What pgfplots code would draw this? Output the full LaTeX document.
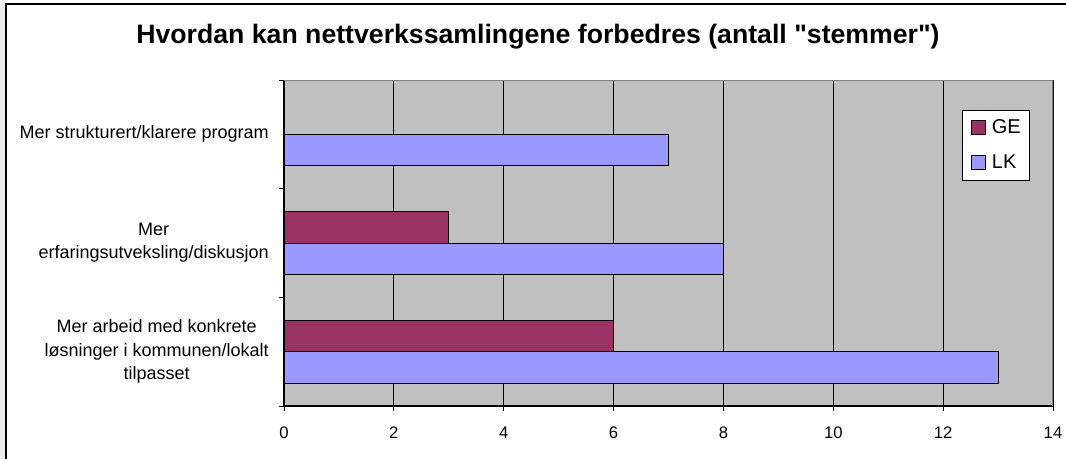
\documentclass[border=0pt]{standalone}
\usepackage{fontspec}
\setmainfont{Liberation Sans}[Ligatures=TeXOff]
\usepackage{pgfplots}
\pgfplotsset{compat=1.18}

\definecolor{geclr}{HTML}{993366}
\definecolor{lkclr}{HTML}{9999FF}
\definecolor{plotbg}{HTML}{C0C0C0}
\definecolor{frameclr}{HTML}{808080}

\begin{document}
\begin{tikzpicture}[x=0.75pt,y=-0.75pt]
\useasboundingbox (0,0) rectangle (1066,459);
\fill[black!7] (0,0) rectangle (5,459);
\draw[line width=1.2pt] (6,459) -- (6,4) -- (1066,4);
\node[font=\bfseries\fontsize{20}{24}\selectfont] at (538,37)
  {Hvordan kan nettverkssamlingene forbedres (antall "stemmer")};

\begin{axis}[
    at={(213pt,-304.5pt)}, anchor=south west,
    scale only axis,
    width=576.75pt, height=244.5pt,
    xbar,
    bar width=23.6pt,
    xmin=0, xmax=14,
    ymin=-0.5, ymax=2.5,
    axis x line*=bottom, axis y line*=left,
    axis line style={line width=1pt},
    axis background/.style={fill=plotbg},
    xtick={0,2,...,14},
    xmajorgrids=true,
    grid style={black, line width=0.75pt},
    ytick={-0.5,0.5,1.5,2.5},
    yticklabels={},
    extra y ticks={0,1,2},
    extra y tick labels={{Mer arbeid med konkrete\\løsninger i kommunen/lokalt\\tilpasset},
                         {Mer\\erfaringsutveksling/diskusjon},
                         {Mer strukturert/klarere program}},
    extra y tick style={major tick length=0pt},
    tick align=outside,
    major tick length=3.75pt,
    tick style={black, line width=0.75pt},
    yticklabel style={font=\fontsize{13.5}{17.5}\selectfont, align=center, anchor=east, inner sep=0pt, xshift=-11.25pt},
    xticklabel style={font=\fontsize{12.5}{14}\selectfont, inner sep=0pt, yshift=-11.5pt},
    /pgf/number format/assume math mode=true,
    legend style={at={(0.8817,0.908)}, anchor=north west, draw=black, fill=white,
                  row sep=14.5pt, column sep=4.5pt,
                  inner xsep=6.5pt, inner ysep=7pt,
                  nodes={inner sep=0pt, font=\fontsize{15}{17}\selectfont}},
    legend cell align=left,
    legend image code/.code={\draw[#1,line width=0.7pt] (0pt,-5.25pt) rectangle (10.5pt,5.25pt);},
]
\addplot[fill=geclr, draw=black, line width=0.75pt, bar shift=11.8pt] coordinates {
    (6,0) (3,1)
};
\addlegendentry{GE}
\addplot[fill=lkclr, draw=black, line width=0.75pt, bar shift=-11.8pt] coordinates {
    (13,0) (8,1) (7,2)
};
\addlegendentry{LK}
\draw[frameclr, line width=0.9pt] (rel axis cs:0,1) -- (rel axis cs:1,1) -- (rel axis cs:1,0);
\end{axis}
\end{tikzpicture}
\end{document}
